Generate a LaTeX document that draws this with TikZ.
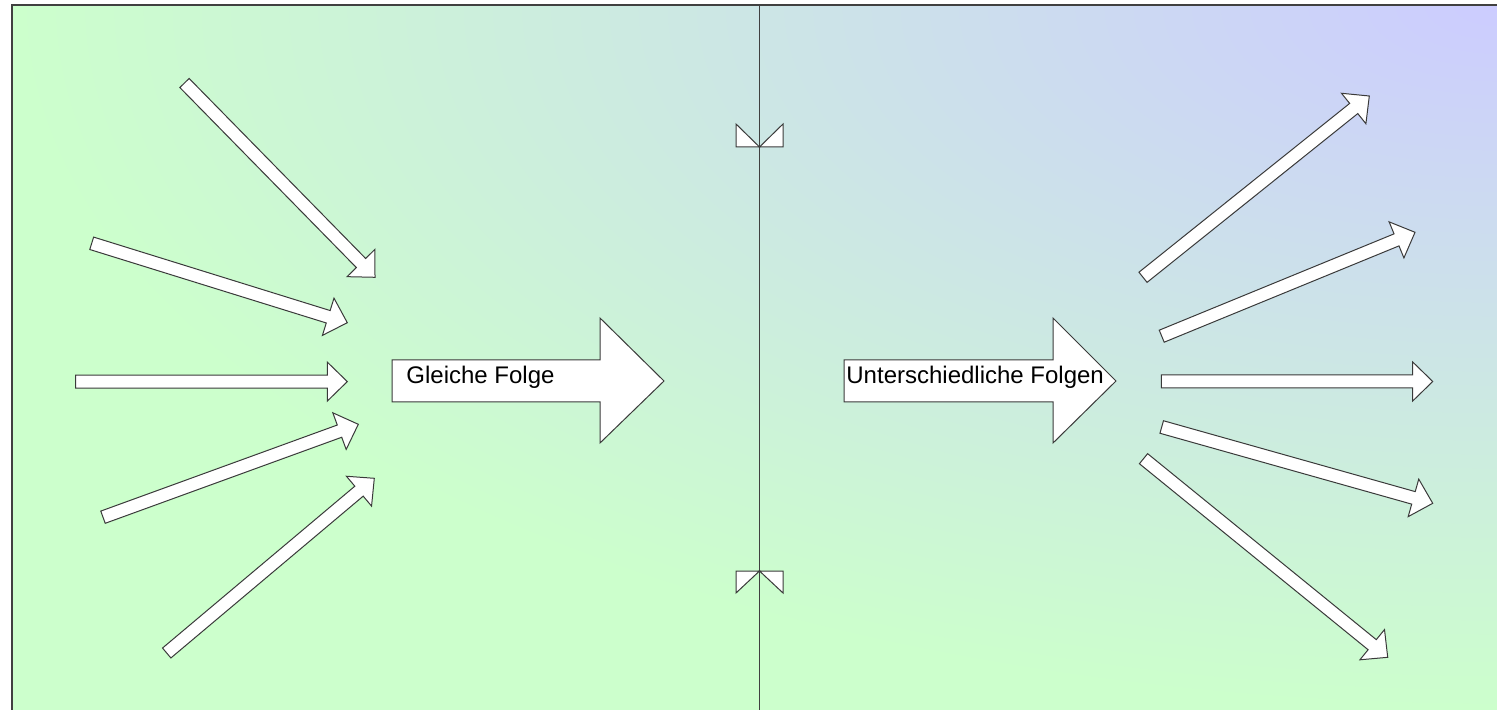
\documentclass[tikz,border=0pt]{standalone}
\usepackage{fontspec}
\setmainfont{Liberation Sans}
\usetikzlibrary{calc}
\definecolor{lav}{HTML}{CCCCFF}
\definecolor{grn}{HTML}{CCFFCC}
\definecolor{edgecol}{HTML}{3A3A3A}
\tikzset{
  arrowbox/.style={fill=white, draw=edgecol, line width=0.5pt, line join=miter},
  frameline/.style={draw=black!75, line width=0.6pt},
  markbox/.style={fill=white, draw=edgecol, line width=0.5pt},
  arrowtext/.style={inner sep=0pt, font=\fontsize{12}{14}\selectfont, text=black}
}
\newcommand\blockarrow[2]{%
  \coordinate (hb) at ($(#2)!10pt!(#1)$);
  \path[arrowbox] ($(#1)!3.25pt!90:(#2)$) -- ($(hb)!3.25pt!90:(#2)$) -- ($(hb)!9.75pt!90:(#2)$) -- (#2)
    -- ($(hb)!9.75pt!-90:(#2)$) -- ($(hb)!3.25pt!-90:(#2)$) -- ($(#1)!3.25pt!-90:(#2)$) -- cycle;}
\begin{document}
\begin{tikzpicture}[x=0.5pt,y=-0.5pt]
\useasboundingbox (0,0) rectangle (1497,710);
\fill[white] (0,0) rectangle (1497,710);
% background
\begin{scope}
  \clip (12,5) rectangle (1497,710);
  \fill[grn] (12,5) rectangle (1497,710);
  \shade[inner color=lav, outer color=grn] (1497,5) ellipse [x radius=742.5pt, y radius=352.5pt];
\end{scope}
\draw[frameline] (12,710) -- (12,5) -- (1497,5);
% divider
\coordinate (dtop) at (759.5,5);
\coordinate (dbot) at (759.5,710);
\draw[frameline] (dtop) -- (dbot);
% markers
\path[markbox] (736,124) -- (736,147) -- (759.5,147) -- cycle;
\path[markbox] (783,124) -- (783,147) -- (759.5,147) -- cycle;
\path[markbox] (736,571) -- (759.5,571) -- (736,593) -- cycle;
\path[markbox] (783,571) -- (759.5,571) -- (783,593) -- cycle;
% left fan
\coordinate (a1) at (184.5,83);   \coordinate (a2) at (375,277.3);
\coordinate (b1) at (91.7,243.3); \coordinate (b2) at (347.3,322.7);
\coordinate (c1) at (75.7,381.6); \coordinate (c2) at (347.3,381.6);
\coordinate (d1) at (103,517.2);  \coordinate (d2) at (358.3,424.3);
\coordinate (e1) at (166.7,653);  \coordinate (e2) at (374.3,478.3);
\blockarrow{a1}{a2}
\blockarrow{b1}{b2}
\blockarrow{c1}{c2}
\blockarrow{d1}{d2}
\blockarrow{e1}{e2}
% right fan
\coordinate (f1) at (1143,277.3);   \coordinate (f2) at (1369.3,96);
\coordinate (g1) at (1161.7,336.2); \coordinate (g2) at (1415,232.3);
\coordinate (h1) at (1161.3,381.5); \coordinate (h2) at (1432.7,381.5);
\coordinate (i1) at (1161.7,427);   \coordinate (i2) at (1432.7,503.3);
\coordinate (j1) at (1143.5,458.7); \coordinate (j2) at (1387.7,657.3);
\blockarrow{f1}{f2}
\blockarrow{g1}{g2}
\blockarrow{h1}{h2}
\blockarrow{i1}{i2}
\blockarrow{j1}{j2}
% big arrows
\path[arrowbox] (392,360) -- (600,360) -- (600,318) -- (664,381) -- (600,443) -- (600,402) -- (392,402) -- cycle;
\node[arrowtext, anchor=base west] (gleich) at (406,384) {Gleiche Folge};
\path[arrowbox] (844,360) -- (1053,360) -- (1053,318) -- (1116,381) -- (1053,443) -- (1053,402) -- (844,402) -- cycle;
\node[arrowtext, anchor=base west] (unters) at (846,384) {Unterschiedliche Folgen};
\end{tikzpicture}
\end{document}
